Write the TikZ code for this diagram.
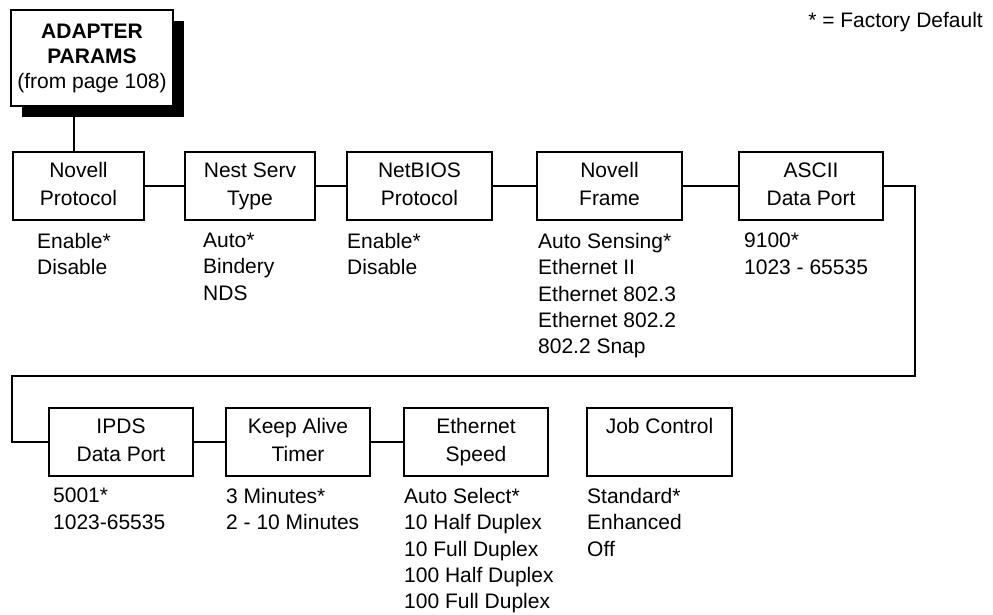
\documentclass[tikz,border=0pt]{standalone}
\usepackage{fontspec}
\setmainfont{Liberation Sans}
\usetikzlibrary{shadows}
\begin{document}
\begin{tikzpicture}[x=1pt,y=-1pt,
  box/.style={draw, line width=1.7pt, minimum height=68pt, inner sep=0pt, align=center,
    font=\fontsize{21}{27.5}\selectfont},
  opts/.style={anchor=north west, inner sep=0pt, align=left,
    font=\fontsize{21}{26.3}\selectfont},
  conn/.style={line width=1.7pt}]
\useasboundingbox (0,0) rectangle (993,615);

% title box with shadow
\node[box, minimum width=162pt, minimum height=96pt, fill=white,
  font=\fontsize{21}{25}\selectfont,
  drop shadow={shadow xshift=11pt, shadow yshift=-11pt, fill=black, opacity=1}]
  (ad) at (92,58) {\textbf{ADAPTER}\\\textbf{PARAMS}\\(from page 108)};

\node[anchor=base east, inner sep=0pt, font=\fontsize{21}{25}\selectfont]
  (legend) at (983,28) {* = Factory Default};

% row 1
\node[box, minimum width=131pt] (np) at (78.5,186) {Novell\strut\\Protocol\strut};
\node[box, minimum width=130pt] (ns) at (250,186) {Nest Serv\strut\\Type\strut};
\node[box, minimum width=145pt] (nb) at (419.5,186) {NetBIOS\strut\\Protocol\strut};
\node[box, minimum width=145pt] (nf) at (609.5,186) {Novell\strut\\Frame\strut};
\node[box, minimum width=144pt] (as) at (811,186) {ASCII\strut\\Data Port\strut};

% row 2
\node[box, minimum width=144pt] (ip) at (121,442) {IPDS\strut\\Data Port\strut};
\node[box, minimum width=144pt] (ka) at (298,442) {Keep Alive\strut\\Timer\strut};
\node[box, minimum width=144pt] (es) at (476,442) {Ethernet\strut\\Speed\strut};
\node[box, minimum width=145pt] (jc) at (659.5,442) {Job Control\strut\\\strut};

% option lists
\node[opts] (o1) at (37,233) {Enable*\\Disable};
\node[opts] (o2) at (203,233) {Auto*\\Bindery\\NDS};
\node[opts] (o3) at (347,233) {Enable*\\Disable};
\node[opts] (o4) at (538,233) {Auto Sensing*\\Ethernet II\\Ethernet 802.3\\Ethernet 802.2\\802.2 Snap};
\node[opts] (o5) at (744,233) {9100*\\1023 - 65535};
\node[opts] (o6) at (53,488) {5001*\\1023-65535};
\node[opts] (o7) at (226,488) {3 Minutes*\\2 - 10 Minutes};
\node[opts] (o8) at (404,488) {Auto Select*\\10 Half Duplex\\10 Full Duplex\\100 Half Duplex\\100 Full Duplex};
\node[opts] (o9) at (587,488) {Standard*\\Enhanced\\Off};

% connectors
\draw[conn] ([xshift=-4.5pt]np.north) -- ([xshift=-4.5pt]np.north |- ad.south);
\draw[conn] (np) -- (ns);
\draw[conn] (ns) -- (nb);
\draw[conn] (nb) -- (nf);
\draw[conn] (nf) -- (as);
\coordinate (rr) at (915,376);
\coordinate (ll) at (12,376);
\draw[conn] (as.east) -| (rr) -- (ll) |- (ip.west);
\draw[conn] (ip) -- (ka);
\draw[conn] (ka) -- (es);
\end{tikzpicture}
\end{document}
